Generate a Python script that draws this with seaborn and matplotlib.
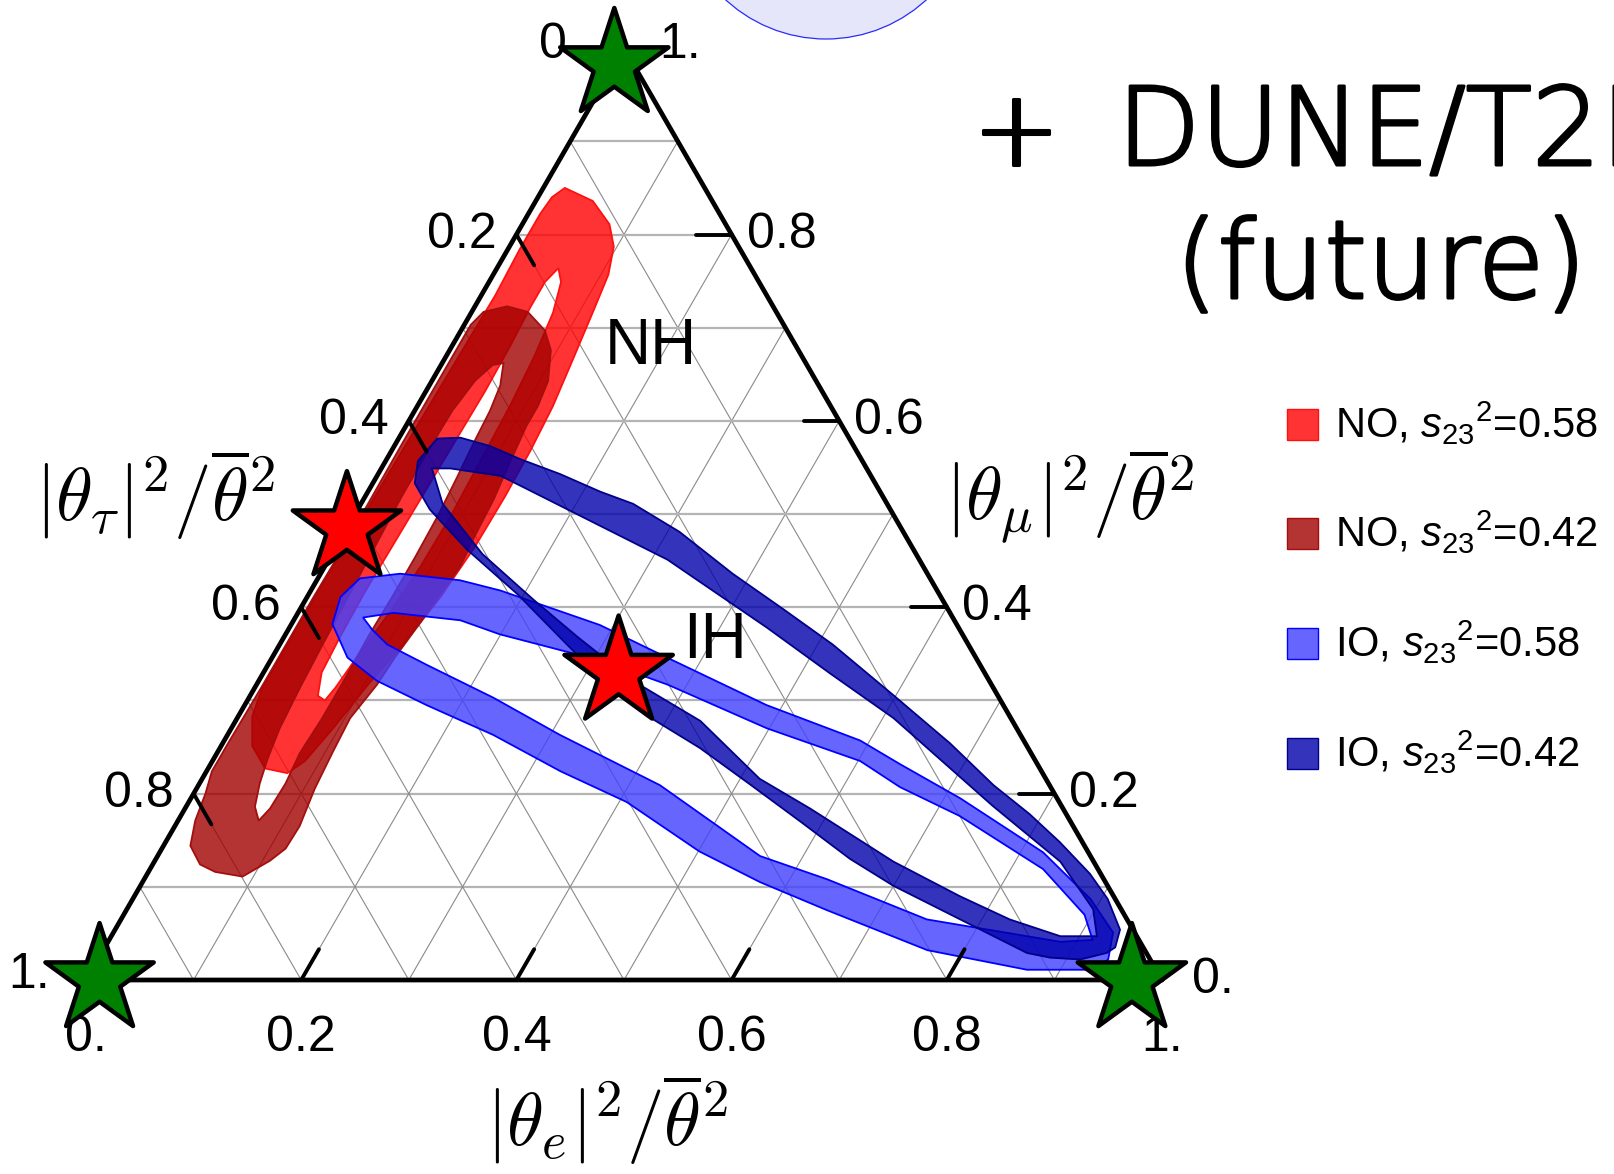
import numpy as np
import pandas as pd
import matplotlib
matplotlib.use("Agg")
import matplotlib.pyplot as plt
import matplotlib.patheffects as pe
import seaborn as sns
from matplotlib.path import Path
from matplotlib.patches import PathPatch, Ellipse, Rectangle

# ---------------- data (ternary fractions: theta_e, theta_mu; tau = 1 - e - mu) ----------------
tick_values = [0.0, 0.2, 0.4, 0.6, 0.8, 1.0]
tick_labels = ["0.", "0.2", "0.4", "0.6", "0.8", "1."]
grid_values = [0.1, 0.2, 0.3, 0.4, 0.5, 0.6, 0.7, 0.8, 0.9]

series_names = ["NO, ${s_{23}}^{2}$=0.58", "NO, ${s_{23}}^{2}$=0.42",
                "IO, ${s_{23}}^{2}$=0.58", "IO, ${s_{23}}^{2}$=0.42"]

# NO, s23^2 = 0.58
no58_outer_e = [0.020, 0.053, 0.081, 0.097, 0.107, 0.112, 0.119, 0.126, 0.129, 0.130, 0.129, 0.124, 0.115, 0.104,
                0.095, 0.086, 0.076, 0.053, 0.029, 0.013, 0.007, 0.007, 0.007, 0.008, 0.009, 0.010, 0.011, 0.012,
                0.013, 0.011, 0.011, 0.013]
no58_outer_mu = [0.850, 0.836, 0.811, 0.787, 0.757, 0.722, 0.670, 0.616, 0.568, 0.519, 0.465, 0.411, 0.362, 0.319,
                 0.272, 0.235, 0.222, 0.227, 0.251, 0.283, 0.314, 0.357, 0.411, 0.465, 0.519, 0.573, 0.627, 0.681,
                 0.735, 0.784, 0.822, 0.840]
no58_inner_e = [0.057, 0.067, 0.076, 0.082, 0.086, 0.088, 0.090, 0.089, 0.085, 0.079, 0.075, 0.072, 0.063, 0.054,
                0.052, 0.051, 0.052, 0.053, 0.054, 0.055, 0.054, 0.052, 0.052]
no58_inner_mu = [0.764, 0.749, 0.716, 0.670, 0.616, 0.557, 0.497, 0.443, 0.395, 0.351, 0.314, 0.300, 0.305, 0.330,
                 0.368, 0.416, 0.470, 0.524, 0.578, 0.632, 0.681, 0.722, 0.749]

# NO, s23^2 = 0.42
no42_outer_e = [0.030, 0.052, 0.078, 0.094, 0.108, 0.112, 0.112, 0.116, 0.121, 0.123, 0.126, 0.122, 0.119, 0.114,
                0.112, 0.105, 0.107, 0.110, 0.116, 0.115, 0.107, 0.090, 0.062, 0.044, 0.025, 0.016, 0.011, 0.005,
                0.005, 0.006, 0.006, 0.007, 0.006, 0.006, 0.006, 0.011]
no42_outer_mu = [0.723, 0.717, 0.697, 0.676, 0.643, 0.616, 0.595, 0.557, 0.516, 0.478, 0.443, 0.414, 0.384, 0.346,
                 0.317, 0.281, 0.245, 0.205, 0.165, 0.141, 0.128, 0.111, 0.116, 0.124, 0.144, 0.171, 0.200, 0.224,
                 0.254, 0.316, 0.411, 0.467, 0.578, 0.635, 0.703, 0.717]
no42_inner_e = [0.057, 0.066, 0.070, 0.072, 0.075, 0.078, 0.079, 0.079, 0.078, 0.079, 0.079, 0.077, 0.080, 0.079,
                0.075, 0.064, 0.056, 0.050, 0.045, 0.042, 0.040, 0.038, 0.036, 0.034, 0.034, 0.035, 0.040, 0.048]
no42_inner_mu = [0.662, 0.638, 0.611, 0.578, 0.541, 0.497, 0.454, 0.411, 0.368, 0.324, 0.281, 0.243, 0.211, 0.184,
                 0.171, 0.186, 0.211, 0.238, 0.270, 0.314, 0.359, 0.411, 0.465, 0.519, 0.568, 0.611, 0.643, 0.660]

# IO, s23^2 = 0.58
io58_outer_e = [0.039, 0.074, 0.133, 0.176, 0.287, 0.367, 0.485, 0.591, 0.640, 0.715, 0.821, 0.890, 0.929, 0.939,
                0.931, 0.869, 0.766, 0.651, 0.574, 0.501, 0.407, 0.329, 0.247, 0.169, 0.110, 0.070, 0.038, 0.031]
io58_outer_mu = [0.431, 0.436, 0.429, 0.418, 0.381, 0.346, 0.295, 0.257, 0.232, 0.195, 0.137, 0.087, 0.051, 0.022,
                 0.011, 0.011, 0.032, 0.075, 0.105, 0.138, 0.191, 0.224, 0.263, 0.295, 0.321, 0.346, 0.382, 0.411]
io58_inner_e = [0.063, 0.089, 0.155, 0.199, 0.306, 0.382, 0.498, 0.602, 0.653, 0.724, 0.830, 0.893, 0.914, 0.885,
                0.851, 0.749, 0.635, 0.560, 0.429, 0.309, 0.227, 0.148, 0.100, 0.078]
io58_inner_mu = [0.389, 0.394, 0.386, 0.371, 0.343, 0.317, 0.270, 0.235, 0.207, 0.176, 0.119, 0.070, 0.043, 0.041,
                 0.047, 0.065, 0.108, 0.133, 0.209, 0.263, 0.303, 0.338, 0.360, 0.376]

# IO, s23^2 = 0.42
io42_outer_e = [0.036, 0.057, 0.089, 0.124, 0.169, 0.216, 0.253, 0.311, 0.383, 0.449, 0.514, 0.597, 0.676, 0.739,
                0.788, 0.831, 0.876, 0.906, 0.934, 0.939, 0.934, 0.913, 0.884, 0.860, 0.780, 0.700, 0.645, 0.579,
                0.512, 0.446, 0.379, 0.316, 0.267, 0.194, 0.123, 0.067, 0.039, 0.030]
io42_outer_mu = [0.581, 0.582, 0.573, 0.559, 0.543, 0.524, 0.511, 0.481, 0.436, 0.398, 0.360, 0.306, 0.254, 0.209,
                 0.178, 0.148, 0.114, 0.087, 0.054, 0.035, 0.029, 0.022, 0.024, 0.029, 0.065, 0.101, 0.130, 0.170,
                 0.210, 0.249, 0.284, 0.324, 0.360, 0.414, 0.462, 0.505, 0.533, 0.557]
io42_inner_e = [0.047, 0.064, 0.115, 0.195, 0.315, 0.444, 0.527, 0.610, 0.749, 0.842, 0.898, 0.916, 0.882, 0.826,
                0.767, 0.687, 0.581, 0.518, 0.432, 0.348, 0.273, 0.212, 0.140, 0.076]
io42_inner_mu = [0.549, 0.549, 0.541, 0.505, 0.451, 0.378, 0.329, 0.281, 0.187, 0.127, 0.076, 0.047, 0.047, 0.065,
                 0.090, 0.127, 0.184, 0.216, 0.278, 0.321, 0.368, 0.408, 0.457, 0.511]

# star markers
star_e = [0.0126, 0.972, 0.0, 0.0, 0.33]
star_mu = [0.0, 0.0, 0.982, 0.485, 0.33]
star_kind = ["flavour", "flavour", "flavour", "best", "best"]

# ---------------- styling ----------------
sns.set_theme(style="white")
plt.rcParams["font.family"] = ["Liberation Sans", "DejaVu Sans"]
plt.rcParams["text.color"] = "black"
plt.rcParams["mathtext.fontset"] = "custom"
plt.rcParams["mathtext.rm"] = "Liberation Sans"
plt.rcParams["mathtext.it"] = "Liberation Sans:italic"
plt.rcParams["mathtext.bf"] = "Liberation Sans:bold"

SQ = np.sqrt(3) / 2


def tern(e, mu):
    e = np.asarray(e, dtype=float)
    mu = np.asarray(mu, dtype=float)
    return e + mu / 2, mu * SQ


def P(px, py):
    return (px - 86) / 1076, (980 - py) / 1076


fig = plt.figure(figsize=(16.14, 11.74), dpi=100)
ax = fig.add_axes([0, 0, 1, 1])
ax.set_xlim(-86 / 1076, 1528 / 1076)
ax.set_ylim(-194 / 1076, 980 / 1076)
ax.axis("off")

# background circle (top)
cx, cy = P(826, -109)
ax.add_patch(Ellipse((cx, cy), 296 / 1076, 296 / 1076, facecolor="#e6e6fa", edgecolor="#2a2aff", lw=0.9, zorder=0))

# grid
for k in grid_values:
    x, y = tern([0, 1 - k], [k, k])
    ax.plot(x, y, color="#b4b4b4", lw=1.6, zorder=1)
    x, y = tern([k, k], [0, 1 - k])
    ax.plot(x, y, color="#8a8a8a", lw=0.8, zorder=1)
    x, y = tern([1 - k, 0], [0, 1 - k])
    ax.plot(x, y, color="#8a8a8a", lw=0.8, zorder=1)


def ring_path(eo, mo, ei, mi):
    xo, yo = tern(eo, mo)
    xi, yi = tern(ei, mi)

    def area(x, y):
        return 0.5 * np.sum(x * np.roll(y, -1) - np.roll(x, -1) * y)

    if np.sign(area(xo, yo)) == np.sign(area(xi, yi)):
        xi, yi = xi[::-1], yi[::-1]
    verts = np.concatenate([np.column_stack([xo, yo]), [[xo[0], yo[0]]],
                            np.column_stack([xi, yi]), [[xi[0], yi[0]]]])
    codes = ([Path.MOVETO] + [Path.LINETO] * (len(xo) - 1) + [Path.CLOSEPOLY] +
             [Path.MOVETO] + [Path.LINETO] * (len(xi) - 1) + [Path.CLOSEPOLY])
    return Path(verts, codes)


regions = [
    (no58_outer_e, no58_outer_mu, no58_inner_e, no58_inner_mu),
    (no42_outer_e, no42_outer_mu, no42_inner_e, no42_inner_mu),
    (io58_outer_e, io58_outer_mu, io58_inner_e, io58_inner_mu),
    (io42_outer_e, io42_outer_mu, io42_inner_e, io42_inner_mu),
]
faces = [(1.0, 0.0, 0.0, 0.8), (0.63, 0.0, 0.0, 0.8), (0.25, 0.25, 1.0, 0.8), (0.0, 0.0, 0.67, 0.8)]
edges = ["#ff1010", "#a40e0e", "#0000ff", "#00008a"]

for (eo, mo, ei, mi), fc, ec in zip(regions, faces, edges):
    ax.add_patch(PathPatch(ring_path(eo, mo, ei, mi), facecolor=fc, edgecolor=ec, lw=1.3, zorder=3))

# triangle frame
x, y = tern([0, 1, 0, 0], [0, 0, 1, 0])
ax.plot(x, y, color="black", lw=3.4, zorder=5, solid_capstyle="round", solid_joinstyle="round")

# ticks
tl = 0.033
for v in tick_values[1:-1]:
    x, y = tern([v, v], [0, tl])                 # bottom axis (theta_e)
    ax.plot(x, y, color="black", lw=2.8, zorder=5)
    x, y = tern([0, tl], [1 - v, 1 - v - tl])    # left axis (theta_tau)
    ax.plot(x, y, color="black", lw=2.8, zorder=5)
    x, y = tern([1 - v, 1 - v - tl], [v, v])     # right axis (theta_mu)
    ax.plot(x, y, color="black", lw=2.8, zorder=5)

# tick labels
PT = 0.72
FS_TICK = 36
for v, s in zip(tick_values, tick_labels):
    x, y = tern(v, 0)
    ax.annotate(s, (x, y), xytext=(0, -35 * PT), textcoords="offset points",
                ha="center", va="top", fontsize=FS_TICK, color="black", zorder=6)
    # left axis: tau = v at (e=0, mu=1-v)
    if v == 0.0:
        off = (-43, 3)
    elif v == 1.0:
        off = (-36, 5)
    else:
        off = (-20, 0)
    x, y = tern(0, 1 - v)
    ax.annotate(s, (x, y), xytext=(off[0] * PT, off[1] * PT), textcoords="offset points",
                ha="right", va="center", fontsize=FS_TICK, color="black", zorder=6)
    # right axis: mu = v at (e=1-v, mu=v)
    if v == 1.0:
        off = (35, 3)
    elif v == 0.0:
        off = (30, 0)
    else:
        off = (15, 0)
    x, y = tern(1 - v, v)
    ax.annotate(s, (x, y), xytext=(off[0] * PT, off[1] * PT), textcoords="offset points",
                ha="left", va="center", fontsize=FS_TICK, color="black", zorder=6)

# axis titles
FS_T = 54
ax.text(*P(607, 1120), r"$|\theta_e|^2/\overline{\theta}^2$", ha="center", va="center",
        fontsize=FS_T, math_fontfamily="cm", color="black")
ax.text(*P(155, 495), r"$|\theta_\tau|^2/\overline{\theta}^2$", ha="center", va="center",
        fontsize=FS_T, math_fontfamily="cm", color="black")
ax.text(*P(1070, 495), r"$|\theta_\mu|^2/\overline{\theta}^2$", ha="center", va="center",
        fontsize=FS_T, math_fontfamily="cm", color="black")

# NH / IH labels
ax.text(*P(651, 347), "NH", ha="center", va="center", fontsize=46, color="black", zorder=6)
ax.text(*P(715, 641), "IH", ha="center", va="center", fontsize=46, color="black", zorder=6)

# star markers via seaborn
df = pd.DataFrame({"e": star_e, "mu": star_mu, "kind": star_kind})
df["x"], df["y"] = tern(df["e"], df["mu"])
sns.scatterplot(data=df, x="x", y="y", hue="kind", palette={"flavour": "#008000", "best": "#ff0000"},
                marker="*", s=82 ** 2, edgecolor="black", linewidth=3.2, legend=False, zorder=10, ax=ax)
ax.set_xlabel("")
ax.set_ylabel("")

# legend (manual)
leg_y = [424, 533.5, 643.5, 753.5]
for name, fc, ec, yy in zip(series_names, faces, edges, leg_y):
    x0, y0 = P(1287, yy + 15.5)
    ax.add_patch(Rectangle((x0, y0), 31 / 1076, 31 / 1076, facecolor=fc, edgecolor=ec, lw=1.0, zorder=6))
    ax.text(*P(1335, yy + 14), name, ha="left", va="baseline", fontsize=30, color="black", zorder=6)

# handwritten annotation
thick = [pe.withStroke(linewidth=2.2, foreground="black")]
hand = dict(family=["DejaVu Sans"], weight="light", color="black", path_effects=thick)
ax.text(*P(1016, 165), "+", ha="center", va="baseline", fontsize=76, **hand)
ax.text(*P(1117, 165), "DUNE/T2HK", ha="left", va="baseline", fontsize=78, **hand)
ax.text(*P(1381, 298), "(future)", ha="center", va="baseline", fontsize=78, **hand)

fig.savefig("out.png", dpi=100)
